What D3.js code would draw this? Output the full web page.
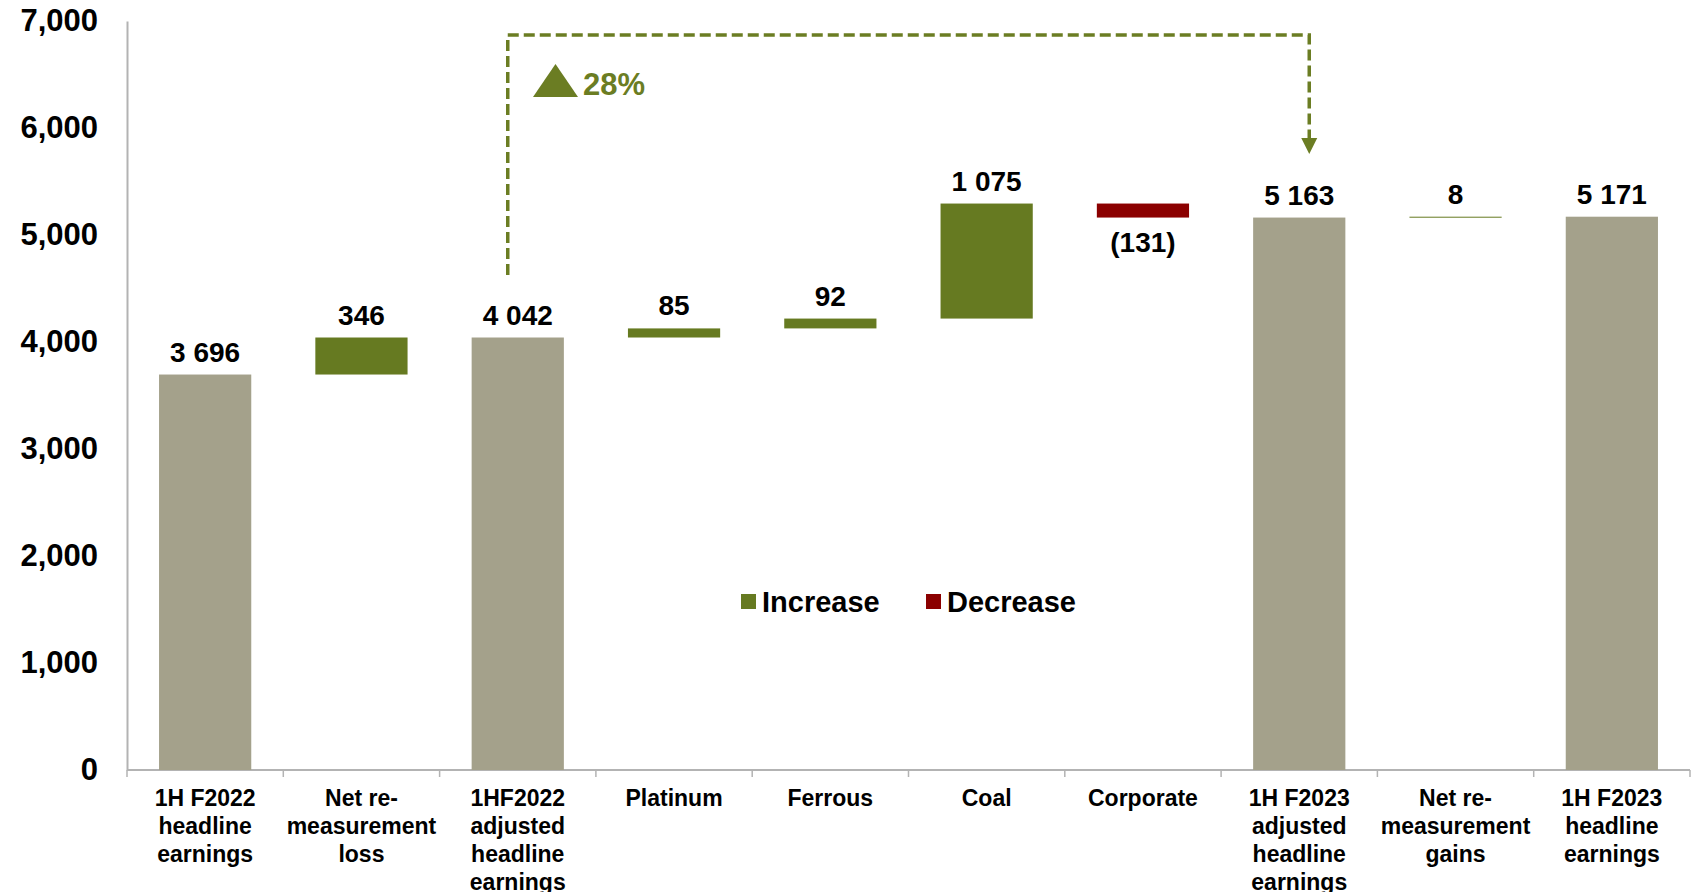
<!doctype html>
<html>
<head>
<meta charset="utf-8"/>
<title>Headline earnings bridge</title>
<script src="https://d3js.org/d3.v7.min.js"></script>
<style>
 body { margin: 0; background: #fff; }
 text { font-family: "Liberation Sans", Arial, sans-serif; font-weight: bold; }
</style>
</head>
<body>
<script>
// categories (lines of each x label)
var categories = [
  ["1H F2022", "headline", "earnings"],
  ["Net re-", "measurement", "loss"],
  ["1HF2022", "adjusted", "headline", "earnings"],
  ["Platinum"],
  ["Ferrous"],
  ["Coal"],
  ["Corporate"],
  ["1H F2023", "adjusted", "headline", "earnings"],
  ["Net re-", "measurement", "gains"],
  ["1H F2023", "headline", "earnings"]
];
var values = [3696, 346, 4042, 85, 92, 1075, -131, 5163, 8, 5171];
var kinds  = ["total", "step", "total", "step", "step", "step", "step", "total", "step", "total"];
var yTicks = [0, 1000, 2000, 3000, 4000, 5000, 6000, 7000];
var legendItems = ["Increase", "Decrease"];
var changeLabel = "28%";

var W = 1693, H = 892;
var colTotal = "#a4a18b", colUp = "#667a21", colDown = "#8b0000", colNote = "#6b7d23";

var svg = d3.select("body").append("svg")
    .attr("width", W)
    .attr("height", H);

var ids = categories.map(function(d, i){ return i; });

var x = d3.scaleBand()
    .domain(ids)
    .range([127, 1690])
    .paddingInner(0.41)
    .paddingOuter(0.205);

var y = d3.scaleLinear()
    .domain([0, 7000])
    .range([770, 21]);

// running totals for the waterfall
var bars = [];
var run = 0;
values.forEach(function(v, i){
  var b;
  if (kinds[i] == "total") {
    b = {i: i, lo: 0, hi: v, v: v, kind: "total"};
    run = v;
  } else {
    var from = run;
    run = run + v;
    b = {i: i, lo: Math.min(from, run), hi: Math.max(from, run), v: v, kind: v < 0 ? "down" : "up"};
  }
  bars.push(b);
});

var fmt = d3.formatLocale({decimal: ".", thousands: " ", grouping: [3]}).format(",");

// y axis
var yAxis = svg.append("g")
    .attr("transform", "translate(127,0)")
    .call(d3.axisLeft(y).tickValues(yTicks).tickSize(0).tickPadding(29).tickFormat(d3.format(",")));
yAxis.select(".domain").attr("stroke", "#b3b3b3").attr("stroke-width", 2);
yAxis.selectAll("text").attr("font-size", 31).attr("fill", "#000");

// x axis line and ticks at the band edges
svg.append("line")
    .attr("x1", 127).attr("x2", 1690)
    .attr("y1", y(0)).attr("y2", y(0))
    .attr("stroke", "#b3b3b3").attr("stroke-width", 2);

var edges = ids.concat([ids.length]);
svg.selectAll(".xtick")
    .data(edges)
    .enter()
    .append("line")
    .attr("class", "xtick")
    .attr("x1", function(d){ return 127 + d * x.step(); })
    .attr("x2", function(d){ return 127 + d * x.step(); })
    .attr("y1", y(0))
    .attr("y2", y(0) + 7)
    .attr("stroke", "#b3b3b3").attr("stroke-width", 1.5);

// x labels
var xl = svg.selectAll(".xlab")
    .data(categories)
    .enter()
    .append("text")
    .attr("class", "xlab")
    .attr("text-anchor", "middle")
    .attr("font-size", 23)
    .attr("fill", "#000");
xl.each(function(lines, i){
  var t = d3.select(this);
  lines.forEach(function(s, k){
    t.append("tspan")
      .attr("x", x(i) + x.bandwidth() / 2)
      .attr("y", 806 + k * 28)
      .text(s);
  });
});

// bars
svg.selectAll(".bar")
    .data(bars)
    .enter()
    .append("rect")
    .attr("class", "bar")
    .attr("x", function(d){ return x(d.i); })
    .attr("width", x.bandwidth())
    .attr("y", function(d){ return y(d.hi); })
    .attr("height", function(d){ return Math.max(1, y(d.lo) - y(d.hi)); })
    .attr("fill", function(d){
      if (d.kind == "total") return colTotal;
      if (d.kind == "down") return colDown;
      return colUp;
    });

// value labels
svg.selectAll(".vlab")
    .data(bars)
    .enter()
    .append("text")
    .attr("class", "vlab")
    .attr("text-anchor", "middle")
    .attr("font-size", 28)
    .attr("fill", "#000")
    .attr("x", function(d){ return x(d.i) + x.bandwidth() / 2; })
    .attr("y", function(d){
      if (d.kind == "down") return y(d.lo) + 34;
      return y(d.hi) - 13;
    })
    .text(function(d){ return d.v < 0 ? "(" + fmt(-d.v) + ")" : fmt(d.v); });

// legend
var leg = svg.append("g").attr("transform", "translate(741,602)");
var legX = [0, 185];
legendItems.forEach(function(s, i){
  leg.append("rect")
    .attr("x", legX[i]).attr("y", -8)
    .attr("width", 15).attr("height", 15)
    .attr("fill", i == 0 ? colUp : colDown);
  leg.append("text")
    .attr("x", legX[i] + 21).attr("y", 10)
    .attr("font-size", 29)
    .attr("fill", "#000")
    .text(s);
});

// change annotation between the two adjusted totals
var xa = x(2) + x.bandwidth() / 2 - 10;
var xb = x(7) + x.bandwidth() / 2 + 10;
var yTop = 35;
svg.append("path")
    .attr("d", "M" + xa + "," + 275 + "V" + yTop + "H" + xb + "V" + 140)
    .attr("fill", "none")
    .attr("stroke", colNote)
    .attr("stroke-width", 3.5)
    .attr("stroke-dasharray", "11,5");
svg.append("path")
    .attr("d", "M" + (xb - 8) + ",138L" + (xb + 8) + ",138L" + xb + ",154Z")
    .attr("fill", colNote);

svg.append("path")
    .attr("d", "M533,97L578,97L555.5,64Z")
    .attr("fill", colNote);
svg.append("text")
    .attr("x", 583).attr("y", 95)
    .attr("font-size", 31)
    .attr("fill", colNote)
    .text(changeLabel);
</script>
</body>
</html>
